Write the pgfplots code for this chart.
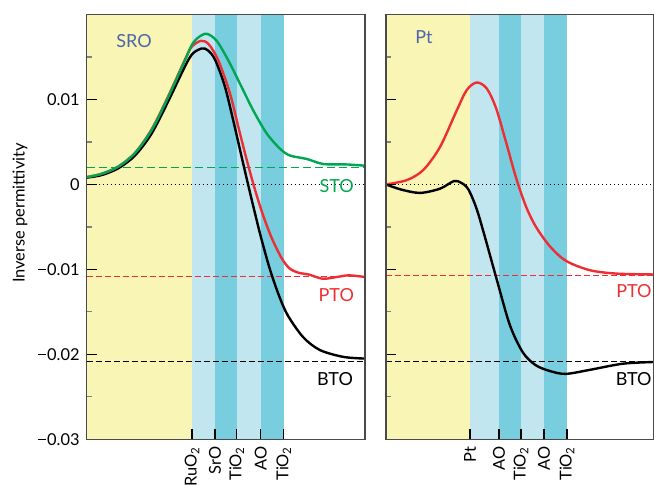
\documentclass[border=0pt]{standalone}
\usepackage{fontspec}
\setmainfont{Lato}
\usepackage{pgfplots}
\pgfplotsset{compat=1.18}
\definecolor{cyel}{HTML}{F8F5B5}
\definecolor{clb}{HTML}{C2E6EF}
\definecolor{cdb}{HTML}{78CEDF}
\definecolor{cgr}{HTML}{00A651}
\definecolor{crd}{HTML}{EE2E34}
\definecolor{cbl}{HTML}{4C66A8}
\definecolor{cax}{HTML}{4A4A4A}
\newcommand{\mns}{\rule[2.6pt]{4.3pt}{0.5pt}\hspace{0.4pt}}
\pgfplotsset{panel/.style={
  scale only axis, height=212.4pt, ymin=-0.03, ymax=0.02,
  axis on top, clip=false,
  ytick={-0.03,-0.02,-0.01,0,0.01},
  minor ytick={-0.025,-0.015,-0.005,0.005,0.015},
  tick align=inside, ytick pos=left, xtick pos=bottom,
  major tick length=5pt, minor tick length=2.5pt,
  major tick style={black, line width=0.6pt},
  minor tick style={gray, line width=0.6pt},
  axis line style={cax, line width=0.7pt},
  scaled y ticks=false,
  tick label style={font=\fontsize{8.2}{9}\selectfont},
  xticklabel style={rotate=90, anchor=east, font=\fontsize{8.2}{9}\selectfont},
  },
  curve/.style={line width=1.2pt, smooth},
  ref/.style={line width=0.5pt, dash pattern=on 3pt off 1.5pt},
}
\begin{document}
\begin{tikzpicture}
% ---------------- left panel (SRO) ----------------
\begin{axis}[panel, at={(43.35pt,-219.65pt)}, anchor=south west, width=139.15pt,
  xmin=0, xmax=278.3,
  xtick={105.3,128.3,150,174,197},
  xticklabels={RuO\textsubscript{2},SrO,TiO\textsubscript{2},AO,TiO\textsubscript{2}},
  yticklabels={\mns0.03,\mns0.02,\mns0.01,0,0.01}]
\addplot[draw=none, fill=cyel] coordinates {(0,-0.03) (105.3,-0.03) (105.3,0.02) (0,0.02)} -- cycle;
\addplot[draw=none, fill=clb] coordinates {(105.3,-0.03) (128.3,-0.03) (128.3,0.02) (105.3,0.02)} -- cycle;
\addplot[draw=none, fill=cdb] coordinates {(128.3,-0.03) (150,-0.03) (150,0.02) (128.3,0.02)} -- cycle;
\addplot[draw=none, fill=clb] coordinates {(150,-0.03) (174,-0.03) (174,0.02) (150,0.02)} -- cycle;
\addplot[draw=none, fill=cdb] coordinates {(174,-0.03) (197,-0.03) (197,0.02) (174,0.02)} -- cycle;
\addplot[black, line width=0.5pt, dash pattern=on 0.6pt off 1.4pt] coordinates {(0,0) (278.3,0)};
\addplot[cgr, ref, dash pattern=on 4pt off 2pt] coordinates {(0,0.00204) (278.3,0.00204)};
\addplot[crd, ref] coordinates {(0,-0.0108) (278.3,-0.0108)};
\addplot[black, ref] coordinates {(0,-0.0209) (278.3,-0.0209)};
% BTO
\addplot[black, curve] coordinates {(0,0.0008) (15,0.0011) (31.6,0.0019) (48.3,0.0034) (65,0.0060) (81.6,0.0098) (98.3,0.0139) (106,0.0154) (115,0.0160) (121,0.0158) (128.3,0.0147) (138,0.0116) (147,0.0073) (156,0.0027) (165,-0.0018) (174,-0.0061) (183,-0.0099) (192,-0.0130) (201,-0.0154) (216.6,-0.0180) (233.3,-0.0195) (256.6,-0.0203) (278.3,-0.0205)};
% PTO
\addplot[crd, curve] coordinates {(0,0.00086) (15,0.00125) (31.6,0.0021) (48.3,0.0037) (65,0.0065) (81.6,0.0104) (98.3,0.0147) (105,0.0162) (114.3,0.0169) (122,0.0165) (131.6,0.0146) (143.3,0.0107) (152,0.0066) (160,0.0029) (168,-0.0005) (176,-0.0035) (185,-0.0063) (195,-0.0087) (203,-0.0099) (212,-0.0104) (222,-0.0106) (236,-0.0111) (250,-0.0109) (262,-0.0107) (278.3,-0.0109)};
% STO
\addplot[cgr, curve] coordinates {(0,0.00086) (15,0.00125) (31.6,0.0021) (48.3,0.0037) (65,0.0064) (81.6,0.0103) (98.3,0.0146) (105,0.0164) (111.6,0.0173) (120,0.01773) (130,0.0169) (141.6,0.0146) (153.3,0.01185) (166.6,0.0087) (180,0.0060) (193.3,0.0042) (203.3,0.0034) (220,0.0030) (236.6,0.0024) (260,0.00235) (278.3,0.0022)};
\node[cbl, font=\fontsize{9}{10}\selectfont] at (axis cs:47.3,0.0169) {SRO};
\node[cgr, font=\fontsize{9}{10}\selectfont] at (axis cs:250,-0.0002) {STO};
\node[crd, font=\fontsize{9}{10}\selectfont] at (axis cs:249.6,-0.0130) {PTO};
\node[black, font=\fontsize{9}{10}\selectfont] at (axis cs:248.3,-0.0229) {BTO};
\end{axis}
% ---------------- right panel (Pt) ----------------
\begin{axis}[panel, at={(193pt,-219.65pt)}, anchor=south west, width=134pt,
  xmin=0, xmax=268,
  xtick={84,113,135,158,181},
  xticklabels={Pt,AO,TiO\textsubscript{2},AO,TiO\textsubscript{2}},
  yticklabels={}]
\addplot[draw=none, fill=cyel] coordinates {(0,-0.03) (84,-0.03) (84,0.02) (0,0.02)} -- cycle;
\addplot[draw=none, fill=clb] coordinates {(84,-0.03) (113,-0.03) (113,0.02) (84,0.02)} -- cycle;
\addplot[draw=none, fill=cdb] coordinates {(113,-0.03) (135,-0.03) (135,0.02) (113,0.02)} -- cycle;
\addplot[draw=none, fill=clb] coordinates {(135,-0.03) (158,-0.03) (158,0.02) (135,0.02)} -- cycle;
\addplot[draw=none, fill=cdb] coordinates {(158,-0.03) (181,-0.03) (181,0.02) (158,0.02)} -- cycle;
\addplot[black, line width=0.5pt, dash pattern=on 0.6pt off 1.4pt] coordinates {(0,0) (268,0)};
\addplot[crd, ref] coordinates {(0,-0.0107) (268,-0.0107)};
\addplot[black, ref] coordinates {(0,-0.0209) (268,-0.0209)};
% BTO
\addplot[black, curve] coordinates {(0,0) (15,-0.0006) (34,-0.0010) (54,-0.0005) (68,0.0004) (75,0.0002) (80.7,-0.0003) (85,-0.0012) (91,-0.0030) (98,-0.0058) (111,-0.0113) (124,-0.0166) (137,-0.0198) (150,-0.0213) (165,-0.0220) (180,-0.0223) (205,-0.0218) (237,-0.0211) (268,-0.0209)};
% PTO
\addplot[crd, curve] coordinates {(0,0) (20.7,0.0005) (37.3,0.0017) (54,0.0044) (70.7,0.0087) (80.7,0.0111) (90.7,0.0120) (100.7,0.0113) (110,0.0090) (120,0.0050) (130,0.0008) (140,-0.0026) (150,-0.0050) (164,-0.0073) (180,-0.0090) (204,-0.0101) (231,-0.0105) (268,-0.0106)};
\node[cbl, font=\fontsize{9}{10}\selectfont] at (axis cs:38,0.0173) {Pt};
\node[crd, font=\fontsize{9}{10}\selectfont, anchor=east, inner sep=1pt] at (axis cs:268,-0.0125) {PTO};
\node[black, font=\fontsize{9}{10}\selectfont, anchor=east, inner sep=1pt] at (axis cs:268,-0.0229) {BTO};
\end{axis}
\node[rotate=90, font=\fontsize{8.2}{9}\selectfont] at (10pt,-106.5pt) {Inverse permittivity};
\pgfresetboundingbox
\path[use as bounding box] (0,0) rectangle (327pt,-242.5pt);
\end{tikzpicture}
\end{document}
